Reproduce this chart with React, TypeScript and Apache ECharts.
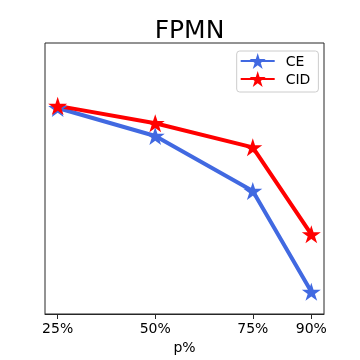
import React, { useEffect, useRef } from "react";
import * as echarts from "echarts";

const pValues = [25, 50, 75, 90];
const tickLabels = ["25%", "50%", "75%", "90%"];
const ceValues = [76.0, 65.7, 45.4, 8.2];
const cidValues = [76.8, 70.4, 61.5, 29.4];

const STAR =
  "path://M95.1,0 L117.55,69.1 L190.2,69.1 L131.4,111.8 L153.9,180.9 L95.1,138.2 L36.3,180.9 L58.8,111.8 L0,69.1 L72.65,69.1 Z";

const FONT = "DejaVu Sans";

export default function App() {
  const ref = useRef<HTMLDivElement>(null);
  useEffect(() => {
    if (!ref.current) return;
    const chart = echarts.init(ref.current, undefined, { renderer: "svg" });
    const mk = (name: string, vals: number[], color: string) => ({
      name,
      type: "line",
      data: pValues.map((p, i) => [p, vals[i]]),
      symbol: STAR,
      symbolSize: 19,
      symbolKeepAspect: true,
      lineStyle: { color, width: 4 },
      itemStyle: { color },
      emphasis: { disabled: true },
    });
    chart.setOption({
      animation: false,
      title: {
        text: "FPMN",
        left: 184.5,
        textAlign: "center",
        top: 12,
        textStyle: { fontFamily: FONT, fontSize: 25, fontWeight: "normal", color: "#000" },
      },
      grid: {
        left: 45,
        right: 36,
        top: 43,
        bottom: 46,
        show: true,
        borderColor: "#262626",
        borderWidth: 1,
        backgroundColor: "transparent",
      },
      legend: {
        orient: "vertical",
        left: 236.7,
        top: 51,
        padding: [2, 8, 5, 3],
        itemWidth: 34,
        itemHeight: 20,
        itemGap: 2,
        borderColor: "#cccccc",
        borderWidth: 1,
        borderRadius: 3,
        backgroundColor: "rgba(255,255,255,0.8)",
        textStyle: { fontFamily: FONT, fontSize: 14, color: "#000", padding: [0, 0, 0, 6] },
        data: ["CE", "CID"],
      },
      xAxis: {
        type: "value",
        min: 21.75,
        max: 93.25,
        name: "p%",
        nameLocation: "middle",
        nameGap: 25,
        nameTextStyle: { fontFamily: FONT, fontSize: 14, color: "#000" },
        axisLine: { show: true, lineStyle: { color: "#262626", width: 1 } },
        axisTick: { show: true, customValues: pValues, length: 5, lineStyle: { color: "#262626" } },
        axisLabel: {
          customValues: pValues,
          formatter: (v: number) => tickLabels[pValues.indexOf(v)] ?? "",
          fontFamily: FONT,
          fontSize: 14,
          color: "#000",
          margin: 7,
        },
        splitLine: { show: false },
      },
      yAxis: {
        type: "value",
        min: 0,
        max: 100,
        show: false,
        splitLine: { show: false },
      },
      series: [mk("CE", ceValues, "#4169E1"), mk("CID", cidValues, "#FF0000")],
    });
    return () => chart.dispose();
  }, []);
  return (
    <div
      ref={ref}
      style={{ position: "fixed", left: 0, top: 0, width: 360, height: 360 }}
    />
  );
}
